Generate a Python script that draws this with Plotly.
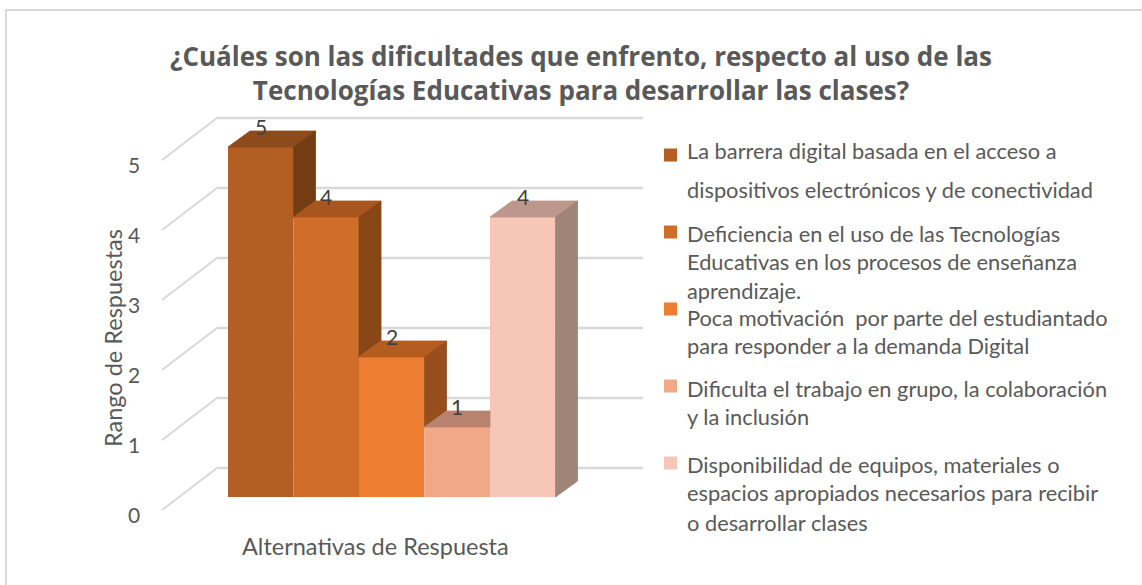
import plotly.graph_objects as go

# ---- data -----------------------------------------------------------------
series_names = [
    "La barrera digital basada en el acceso a dispositivos electrónicos y de conectividad",
    "Deficiencia en el uso de las Tecnologías Educativas en los procesos de enseñanza aprendizaje.",
    "Poca motivación  por parte del estudiantado para responder a la demanda Digital",
    "Dificulta el trabajo en grupo, la colaboración y la inclusión",
    "Disponibilidad de equipos, materiales o espacios apropiados necesarios para recibir o desarrollar clases",
]
values = [5, 4, 2, 1, 4]
y_ticks = [0, 1, 2, 3, 4, 5]
# legend text, split as in the original; each inner list is one text block
legend_blocks = [
    [["La barrera digital basada en el acceso a"],
     ["dispositivos electrónicos y de conectividad"]],
    [["Deficiencia en el uso de las Tecnologías",
      "Educativas en los procesos de enseñanza",
      "aprendizaje."]],
    [["Poca motivación&nbsp; por parte del estudiantado",
      "para responder a la demanda Digital"]],
    [["Dificulta el trabajo en grupo, la colaboración",
      "y la inclusión"]],
    [["Disponibilidad de equipos, materiales o",
      "espacios apropiados necesarios para recibir"],
     ["o desarrollar clases"]],
]
title_lines = ["¿Cuáles son las dificultades que enfrento, respecto al uso de las",
               "Tecnologías Educativas para desarrollar las clases?"]
x_title = "Alternativas de Respuesta"
y_title = "Rango de Respuestas"

# ---- styles ---------------------------------------------------------------
front_colors = ["#B35E22", "#D06D2B", "#ED7D31", "#F1A889", "#F6C6B7"]
top_colors = ["#8D4A1A", "#A9561E", "#B55C20", "#B9826E", "#BD978B"]
side_colors = ["#733D14", "#884516", "#954E1C", "#9C6E5E", "#A08478"]
grid_color = "#D9D9D9"
text_color = "#595959"
FONT = "Lato"
TITLE_FONT = "Open Sans"

# ---- geometry (pixel layout of the fake 3D projection) -----------------------
FIG_W, FIG_H = 1142, 585
BAR_PX, UNIT_PX = 65.5, 70.0
X0_PX, Y0_PX = 228, 497


def px_x(px):
    return (px - X0_PX) / BAR_PX - 0.5


def px_y(py):
    return (Y0_PX - py) / UNIT_PX


def off(dx_px, dy_px):
    return dx_px / BAR_PX, -dy_px / UNIT_PX


BAR_D = off(22, -16)
FLOOR_D = off(-17, 13)
WALL_D = off(38, -29)
WALL_L, WALL_R = px_x(179), px_x(605)


def paper(px, py):
    return px / FIG_W, 1 - py / FIG_H


fig = go.Figure()

# bar fronts
for i, v in enumerate(values):
    fig.add_trace(go.Bar(x=[i], y=[v], width=1, name=series_names[i],
                         marker=dict(color=front_colors[i], line_width=0),
                         hoverinfo="name+y"))

# top and side faces, clipped where the next bar hides them
bdx, bdy = BAR_D
for i, v in enumerate(values):
    xl, xr = i - 0.5, i + 0.5
    nxt = values[i + 1] if i + 1 < len(values) else 0
    if nxt > v:
        tx = [xl, xr, xr, xl + bdx, xl]
    else:
        tx = [xl, xr, xr + bdx, xl + bdx, xl]
    ty = [v, v, v + bdy, v + bdy, v]
    fig.add_trace(go.Scatter(x=tx, y=ty, fill="toself", mode="lines",
                             fillcolor=top_colors[i],
                             line=dict(color=top_colors[i], width=0.8),
                             hoverinfo="skip", showlegend=False))
    if nxt < v:
        sx = [xr, xr + bdx, xr + bdx, xr, xr]
        sy = [nxt, nxt + bdy, v + bdy, v, nxt]
        fig.add_trace(go.Scatter(x=sx, y=sy, fill="toself", mode="lines",
                                 fillcolor=side_colors[i],
                                 line=dict(color=side_colors[i], width=0.8),
                                 hoverinfo="skip", showlegend=False))

# floor / back wall gridlines
shapes = []
annotations = []
for t in y_ticks:
    xf, yf = WALL_L + FLOOR_D[0], t + FLOOR_D[1]
    xb, yb = WALL_L + WALL_D[0], t + WALL_D[1]
    xe = WALL_R + WALL_D[0]
    shapes.append(dict(type="line", xref="x", yref="y", x0=xf, y0=yf, x1=xb, y1=yb,
                       line=dict(color=grid_color, width=2), layer="below"))
    shapes.append(dict(type="line", xref="x", yref="y", x0=xb, y0=yb, x1=xe, y1=yb,
                       line=dict(color=grid_color, width=2.5), layer="below"))
    annotations.append(dict(x=xf, y=yf, xref="x", yref="y", text=str(t),
                            showarrow=False, xanchor="right", yanchor="middle",
                            xshift=-20, yshift=-4,
                            font=dict(family=FONT, size=21, color=text_color)))

# data labels
for i, v in enumerate(values):
    annotations.append(dict(x=i, y=v + bdy, xref="x", yref="y", text=str(v),
                            showarrow=False, yanchor="middle", yshift=5,
                            font=dict(family=FONT, size=21, color="#404040")))

# title
tx, ty = paper(581, 73)
annotations.append(dict(x=tx, y=ty, xref="paper", yref="paper",
                        text="<br>".join("<b>" + s + "</b>" for s in title_lines),
                        showarrow=False, align="center",
                        xanchor="center", yanchor="middle",
                        font=dict(family=TITLE_FONT, size=26, color=text_color)))

# axis titles
ax, ay = paper(113, 338)
annotations.append(dict(x=ax, y=ay, xref="paper", yref="paper", text=y_title,
                        textangle=-90, showarrow=False, xanchor="center",
                        yanchor="middle",
                        font=dict(family=FONT, size=23.5, color=text_color)))
ax, ay = paper(375, 546)
annotations.append(dict(x=ax, y=ay, xref="paper", yref="paper", text=x_title,
                        showarrow=False, xanchor="center", yanchor="middle",
                        font=dict(family=FONT, size=23.5, color=text_color)))

# legend (drawn by hand to keep Excel's uneven spacing)
legend_square_y = [155, 232, 309, 386, 463]
legend_block_y = [[150, 190], [262], [331], [402.5], [478.5, 522]]
for i, blocks in enumerate(legend_blocks):
    sy = legend_square_y[i]
    x0, y0 = paper(664, sy - 6.5)
    x1, y1 = paper(677, sy + 6.5)
    shapes.append(dict(type="rect", xref="paper", yref="paper",
                       x0=x0, y0=y0, x1=x1, y1=y1,
                       fillcolor=front_colors[i], line_width=0))
    for lines, by in zip(blocks, legend_block_y[i]):
        lx, lyp = paper(685, by)
        annotations.append(dict(x=lx, y=lyp, xref="paper", yref="paper",
                                text="<br>".join(lines), showarrow=False,
                                xanchor="left", yanchor="middle", align="left",
                                font=dict(family=FONT, size=21.8, color=text_color)))

# chart area border (top and left visible)
bx0, by0 = paper(6, 10)
bx1, by1 = paper(1160, 600)
shapes.append(dict(type="rect", xref="paper", yref="paper", x0=bx0, y0=by0,
                   x1=bx1, y1=by1, line=dict(color=grid_color, width=2),
                   fillcolor="rgba(0,0,0,0)", layer="below"))

fig.update_layout(
    width=FIG_W, height=FIG_H,
    margin=dict(l=0, r=0, t=0, b=0),
    paper_bgcolor="white", plot_bgcolor="white",
    barmode="overlay", showlegend=False,
    xaxis=dict(range=[px_x(0), px_x(FIG_W)], visible=False, fixedrange=True),
    yaxis=dict(range=[px_y(FIG_H), px_y(0)], visible=False, fixedrange=True),
    shapes=shapes, annotations=annotations,
)

fig.write_html("out.html", config={"displayModeBar": False},
               post_script="document.body.style.margin='0';")
